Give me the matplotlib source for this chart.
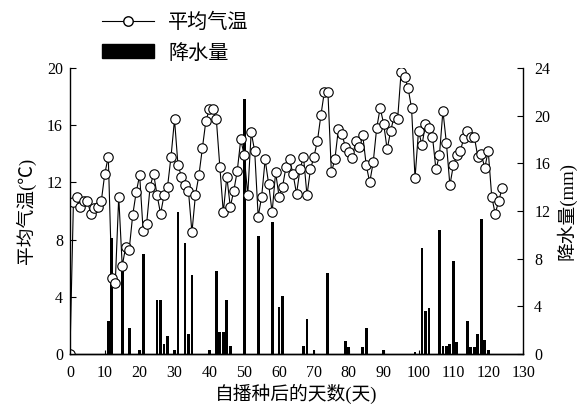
import matplotlib
matplotlib.use("Agg")
import matplotlib.pyplot as plt
from matplotlib.lines import Line2D
from matplotlib.patches import Patch

plt.rcParams['font.family'] = ['Liberation Serif', 'Noto Sans CJK SC', 'DejaVu Sans']

# mean air temperature (deg C), one value per day after sowing, day 0..124
temp_days = list(range(0, 125))
temp_values = [
    0.0, 10.6, 11.0, 10.3, 10.7, 10.7, 9.8, 10.2, 10.3, 10.7,
    12.6, 13.8, 5.3, 4.95, 11.0, 6.15, 7.5, 7.3, 9.7, 11.3,
    12.5, 8.6, 9.1, 11.7, 12.6, 11.1, 9.8, 11.1, 11.7, 13.8,
    16.4, 13.2, 12.4, 11.8, 11.4, 8.5, 11.1, 12.5, 14.4, 16.3,
    17.1, 17.1, 16.4, 13.1, 9.9, 12.4, 10.3, 11.4, 12.8, 15.0,
    13.9, 11.1, 15.5, 14.2, 9.6, 11.0, 13.6, 11.9, 9.9, 12.7,
    11.0, 11.7, 13.1, 13.6, 12.6, 11.2, 12.9, 13.8, 11.1, 12.9,
    13.8, 14.9, 16.7, 18.35, 18.35, 12.7, 13.6, 15.7, 15.4, 14.5,
    14.1, 13.7, 14.9, 14.5, 15.3, 13.2, 12.0, 13.4, 15.8, 17.2,
    16.1, 14.3, 15.6, 16.6, 16.4, 19.7, 19.4, 18.6, 17.2, 12.3,
    15.6, 14.6, 16.1, 15.8, 15.2, 12.9, 13.9, 17.0, 14.75, 11.8,
    13.2, 13.9, 14.2, 15.1, 15.6, 15.2, 15.2, 13.8, 14.0, 13.0,
    14.2, 11.0, 9.8, 10.7, 11.6,
]

# precipitation (mm) on rainy days
rain_days = [11, 12, 15, 17, 20, 21, 25, 26, 27, 28, 30, 31, 33, 34, 35,
             40, 42, 43, 44, 45, 46, 50, 54, 58, 60, 61, 67, 68, 70, 74,
             79, 80, 84, 85, 90, 99, 101, 102, 103, 106, 107, 108, 109,
             110, 111, 114, 115, 116, 117, 118, 119, 120]
rain_values = [2.8, 9.7, 7.35, 2.2, 0.3, 8.4, 4.5, 4.5, 0.8, 1.5, 0.3, 11.9,
               9.3, 1.7, 6.65, 0.3, 7.0, 1.8, 1.8, 4.5, 0.7, 21.4, 9.9, 11.1,
               3.9, 4.9, 0.7, 2.9, 0.3, 6.8, 1.1, 0.6, 0.6, 2.2, 0.3, 0.2,
               8.9, 3.6, 3.85, 10.4, 0.7, 0.7, 0.8, 7.8, 1.0, 2.8, 0.6, 0.6,
               1.7, 11.3, 1.2, 0.3]

x_ticks = list(range(0, 131, 10))
temp_ticks = [0, 4, 8, 12, 16, 20]
rain_ticks = [0, 4, 8, 12, 16, 20, 24]

fig = plt.figure(figsize=(5.78, 4.12), dpi=100)
ax_t = fig.add_axes([0.121, 0.141, 0.784, 0.694])
ax_r = ax_t.twinx()

ax_r.bar(rain_days, rain_values, width=0.8, color='black', linewidth=0)
ax_t.plot(temp_days, temp_values, color='black', linewidth=0.8, marker='o',
          markersize=6.8, markerfacecolor='white', markeredgecolor='black',
          markeredgewidth=0.8)

# temperature line above the bars
ax_t.set_zorder(ax_r.get_zorder() + 1)
ax_t.patch.set_visible(False)

ax_t.set_xlim(0, 130)
ax_t.set_ylim(0, 20)
ax_r.set_ylim(0, 24)
ax_t.set_xticks(x_ticks)
ax_t.set_yticks(temp_ticks)
ax_r.set_yticks(rain_ticks)

for ax in (ax_t, ax_r):
    ax.spines['top'].set_visible(False)
    for s in ax.spines.values():
        s.set_linewidth(1.0)
ax_t.spines['right'].set_visible(False)
ax_r.spines['left'].set_visible(False)

ax_t.tick_params(axis='x', direction='in', length=3, labelsize=11.5, pad=8)
ax_t.tick_params(axis='y', direction='in', length=4, labelsize=11.5, pad=5)
ax_r.tick_params(axis='y', direction='in', length=4, labelsize=11.5, pad=8)

ax_t.set_xlabel('自播种后的天数(天)', fontsize=13.5, labelpad=2)
ax_t.set_ylabel('平均气温(℃)', fontsize=13.5, labelpad=8)
ax_r.set_ylabel('降水量(mm)', fontsize=13.5, labelpad=4)

handles = [
    Line2D([], [], color='black', linewidth=0.8, marker='o', markersize=6.8,
           markerfacecolor='white', markeredgecolor='black'),
    Patch(facecolor='black', edgecolor='black'),
]
fig.legend(handles, ['平均气温', '降水量'], loc='upper left',
           bbox_to_anchor=(0.145, 1.01), frameon=False, fontsize=14.5,
           handlelength=2.6, handleheight=0.7, labelspacing=0.55,
           handletextpad=0.7)

fig.savefig('out.png', dpi=100)
